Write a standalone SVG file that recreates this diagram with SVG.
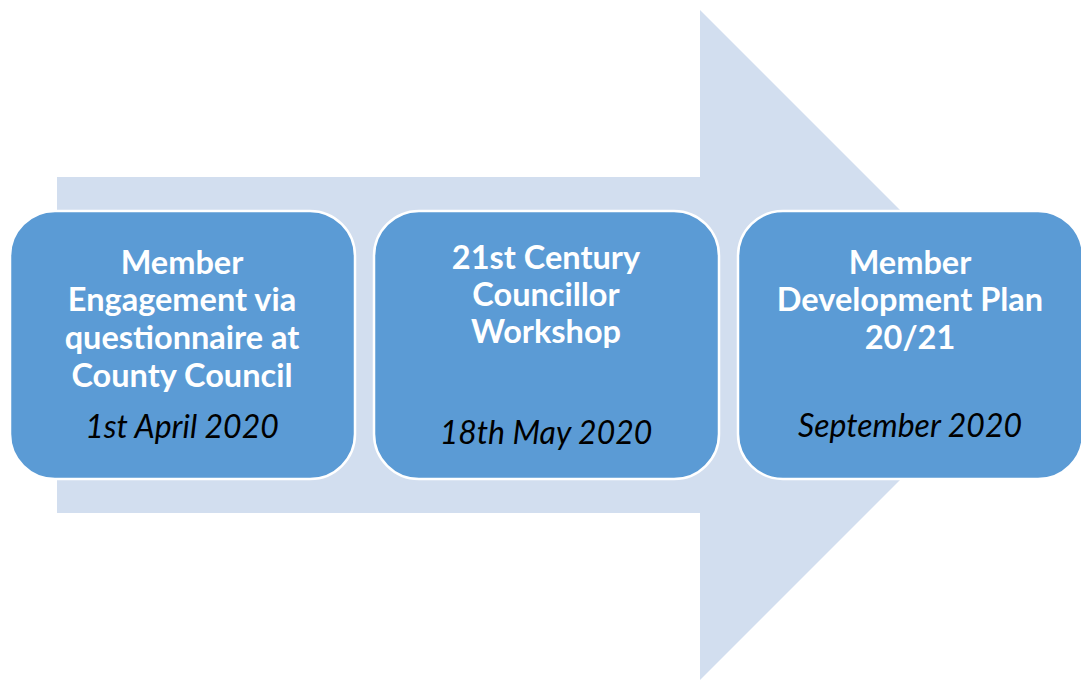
<svg xmlns="http://www.w3.org/2000/svg" width="1081" height="680" viewBox="0 0 1081 680">
<style>
.box{fill:#5B9BD5;stroke:#FFFFFF;stroke-width:2.5}
.t{font-family:Lato,"Open Sans","Liberation Sans",sans-serif;font-weight:bold;font-size:32.5px;fill:#FFFFFF;text-anchor:middle}
.d{font-family:Lato,"Open Sans","Liberation Sans",sans-serif;font-style:italic;font-size:32px;fill:#000000;text-anchor:middle}
</style>
<g id="connectors">
<polygon id="arrow" points="57,177 700,177 700,10 1035,345 700,680 700,513 57,513" fill="#D2DEEF"/>
</g>
<g id="node1">
<rect class="box" x="10" y="211" width="345" height="268" rx="45" ry="45"/>
<text class="t" x="182" y="274">Member</text>
<text class="t" x="182" y="311">Engagement via</text>
<text class="t" x="182" y="349">questionnaire at</text>
<text class="t" x="182" y="387">County Council</text>
<text class="d" x="182" y="438">1st April 2020</text>
</g>
<g id="node2">
<rect class="box" x="374" y="211" width="345" height="268" rx="45" ry="45"/>
<text class="t" x="546" y="269">21st Century</text>
<text class="t" x="546" y="306">Councillor</text>
<text class="t" x="546" y="343">Workshop</text>
<text class="d" x="546" y="444">18th May 2020</text>
</g>
<g id="node3">
<rect class="box" x="738" y="211" width="345" height="268" rx="45" ry="45"/>
<text class="t" x="910" y="274">Member</text>
<text class="t" x="910" y="311">Development Plan</text>
<text class="t" x="910" y="349">20/21</text>
<text class="d" x="910" y="437">September 2020</text>
</g>
</svg>
